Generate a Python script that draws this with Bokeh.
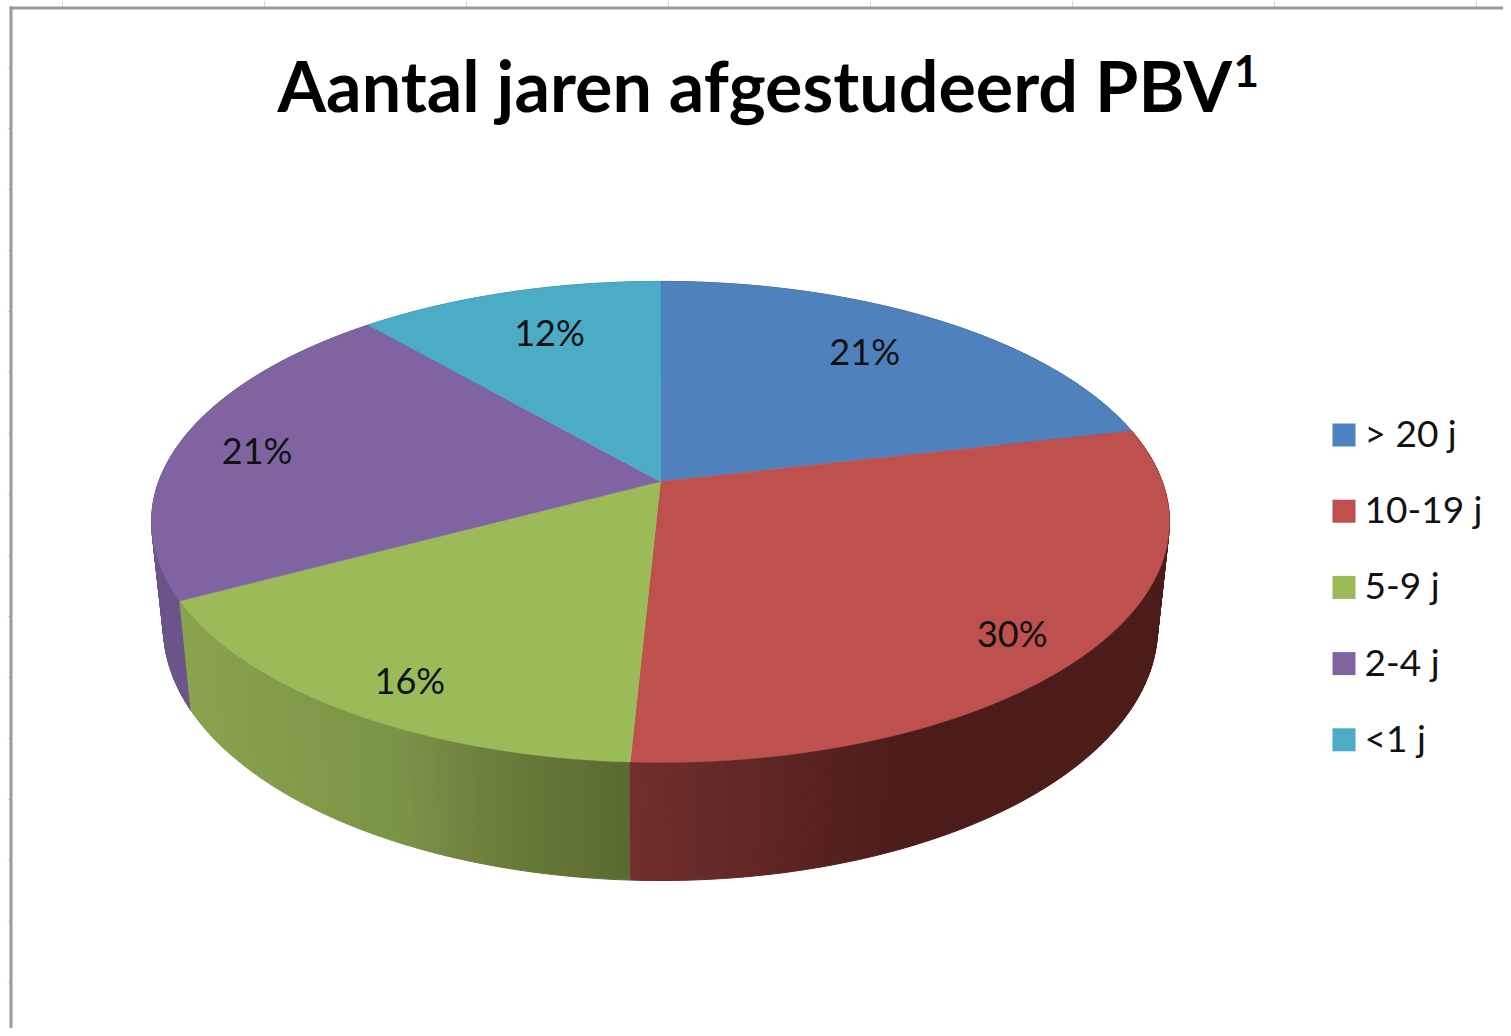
import numpy as np
from bokeh.plotting import figure
from bokeh.models import Range1d
from bokeh.core.properties import value
from bokeh.embed import file_html
from bokeh.resources import INLINE

title_text = "Aantal jaren afgestudeerd PBV"
title_sup = "1"
categories = ["> 20 j", "10-19 j", "5-9 j", "2-4 j", "<1 j"]
shares = [21.4, 29.4, 16.4, 21.4, 11.4]
percent_labels = ["21%", "30%", "16%", "21%", "12%"]
top_colors = ["#4F81BD", "#BE504D", "#9BBB59", "#8064A2", "#4BACC6"]
# side shading: (x pixel, rgb) stops per slice
side_stops = [
    [(0, (58, 95, 140)), (1511, (58, 95, 140))],
    [(630, (114, 46, 44)), (740, (98, 40, 38)), (900, (76, 28, 27)), (1511, (76, 28, 27))],
    [(180, (138, 163, 78)), (400, (122, 148, 70)), (480, (110, 128, 62)), (630, (88, 106, 46))],
    [(0, (107, 84, 135)), (1511, (107, 84, 135))],
    [(0, (56, 128, 148)), (1511, (56, 128, 148))],
]

W, H = 1503, 1028
CX, APEX_Y, R, A, C = 660.0, 481.0, 501.7, 233.7, 0.168
BOT_APEX_Y, BOT_R, BOT_A = 584.5, 490.0, 245.9


def top_pt(theta, k=1.0):
    s, co = np.cos(theta), np.sin(theta)
    d = 1 + C * k * s
    return CX + R * k * co / d, APEX_Y - A * k * s / d


def bot_pt(theta):
    s, co = np.cos(theta), np.sin(theta)
    d = 1 + C * s
    return CX + BOT_R * co / d, BOT_APEX_Y - BOT_A * s / d


p = figure(width=W, height=H, x_range=Range1d(0, W), y_range=Range1d(H, 0),
           output_backend="svg", toolbar_location=None, min_border=0,
           outline_line_color=None, background_fill_color="white", border_fill_color="white")
p.axis.visible = False
p.grid.visible = False

# window frame and ruler ticks
tx = list(range(62, W, 202))
ly = list(range(67, H, 61))
p.segment(tx, [0] * len(tx), tx, [6] * len(tx), line_color="#DADADA", line_width=1)
p.segment([7] * len(ly), ly, [9] * len(ly), ly, line_color="#CFCFCF", line_width=1)
p.segment([9], [7.5], [W], [7.5], line_color="#9A9A9A", line_width=3)
p.segment([10.5], [6], [10.5], [H], line_color="#9A9A9A", line_width=3)

# slice angles, clockwise from straight back
edges = np.cumsum([0.0] + shares) / sum(shares) * 2 * np.pi

# side wall
qx, qy, qc = [], [], []
for i in range(len(shares)):
    n = max(2, int((edges[i + 1] - edges[i]) / 0.012))
    ts = np.linspace(edges[i], edges[i + 1], n + 1)
    xs_st = [st[0] for st in side_stops[i]]
    for a, b in zip(ts[:-1], ts[1:]):
        ax, ay = top_pt(a)
        bx, by = top_pt(b)
        cx, cy = bot_pt(b)
        dx, dy = bot_pt(a)
        mid = (ax + bx + cx + dx) / 4
        rgb = [int(round(np.interp(mid, xs_st, [st[1][j] for st in side_stops[i]]))) for j in range(3)]
        qx.append([ax, bx, cx, dx])
        qy.append([ay, by, cy, dy])
        qc.append("#%02x%02x%02x" % tuple(rgb))
order = np.argsort([sum(y) for y in qy])
p.patches([qx[i] for i in order], [qy[i] for i in order],
          fill_color=[qc[i] for i in order], line_color=[qc[i] for i in order], line_width=1)

# top face
for i, col in enumerate(top_colors):
    ts = np.linspace(edges[i], edges[i + 1], 120)
    xs, ys = top_pt(ts)
    p.patch([CX] + list(xs), [APEX_Y] + list(ys), fill_color=col, line_color=col, line_width=0.5)

# percent labels
label_nudge = [(-22, 1.5), (15, 20), (-8, 20), (-18, 2), (14, 6)]
for i, txt in enumerate(percent_labels):
    mid = (edges[i] + edges[i + 1]) / 2
    lx, ly_ = top_pt(mid, 0.8)
    p.text([lx + label_nudge[i][0]], [ly_ + label_nudge[i][1]], text=[txt],
           text_font=value("Lato"), text_font_size="36px", text_color="#111111",
           text_align="center", text_baseline="middle")

# legend
for i, (name, col) in enumerate(zip(categories, top_colors)):
    yc = 434.5 + 76.2 * i
    p.quad(left=[1332], right=[1355], top=[yc - 11.5], bottom=[yc + 11.5], fill_color=col, line_color=None)
    p.text([1364], [yc - 2.5], text=[name], text_font=value("Lato"), text_font_size="37px",
           text_color="#111111", text_align="left", text_baseline="middle")

# title
p.text([277], [84], text=[title_text], text_font=value("Lato"), text_font_size="70px",
       text_font_style="bold", text_color="#000000", text_align="left", text_baseline="middle")
p.text([1233], [70], text=[title_sup], text_font=value("Lato"), text_font_size="44px",
       text_font_style="bold", text_color="#000000", text_align="left", text_baseline="middle")

open("out.html", "w").write(file_html(p, INLINE))
